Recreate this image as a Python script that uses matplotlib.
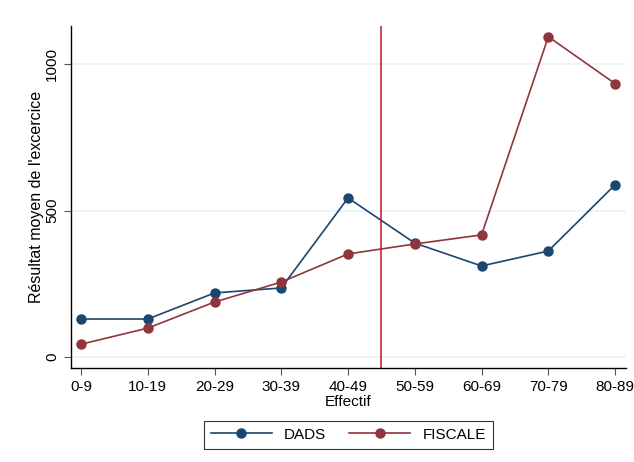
import matplotlib.pyplot as plt

plt.rcParams['font.family'] = ['Liberation Sans', 'DejaVu Sans']

categories = ['0-9', '10-19', '20-29', '30-39', '40-49', '50-59', '60-69', '70-79', '80-89']
dads = [130, 130, 219, 236, 543, 389, 311, 362, 588]
fiscale = [44, 99, 188, 256, 352, 386, 417, 1093, 933]
seuil = 4.5  # ligne verticale entre 40-49 et 50-59

x = list(range(len(categories)))

fig = plt.figure(figsize=(6.34, 4.62), dpi=100)
ax = fig.add_axes([0.112, 0.2035, 0.875, 0.7405])

ax.plot(x, dads, color='#1a476f', marker='o', markersize=6.5, linewidth=1.2, label='DADS')
ax.plot(x, fiscale, color='#90353b', marker='o', markersize=6.5, linewidth=1.2, label='FISCALE')
ax.axvline(seuil, color='#c8102e', linewidth=1.1)

ax.set_xlim(-0.15, 8.16)
ax.set_ylim(-37, 1130)
ax.set_xticks(x)
ax.set_xticklabels(categories)
ax.set_yticks([0, 500, 1000])
ax.set_yticklabels(['0', '500', '1000'], rotation=90, va='center')
ax.tick_params(labelsize=11, length=5, color='#555555')

# grille horizontale claire
ax.grid(axis='y', color='#eaf2f3', linewidth=1.2)
ax.set_axisbelow(True)
for s in ['top', 'right']:
    ax.spines[s].set_visible(False)
for s in ['left', 'bottom']:
    ax.spines[s].set_linewidth(1.0)

ax.set_ylabel("Résultat moyen de l'excercice", fontsize=11.5, labelpad=1)
ax.set_xlabel('Effectif', fontsize=11, labelpad=1)

leg = ax.legend(loc='upper center', bbox_to_anchor=(0.5, -0.132), ncol=2, frameon=True,
                fancybox=False, edgecolor='black', fontsize=11, handlelength=4,
                columnspacing=1.5, borderpad=0.45)
leg.get_frame().set_linewidth(0.8)

fig.savefig('out.png', dpi=100)
